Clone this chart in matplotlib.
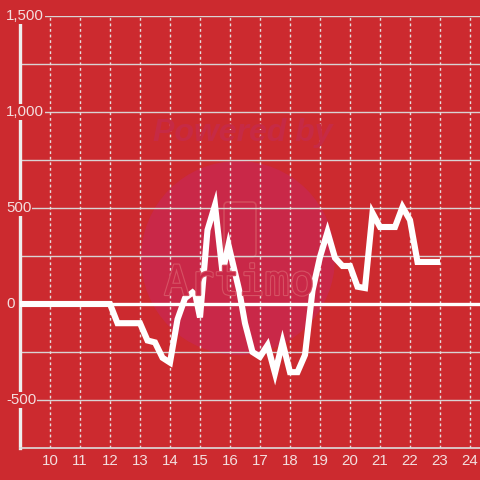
import numpy as np
import matplotlib.pyplot as plt
import matplotlib.patheffects as pe
from matplotlib.patches import Circle, FancyBboxPatch
from matplotlib.transforms import blended_transform_factory

# hours of day vs value
hours = [9.0, 12.0, 12.25, 13.0, 13.25, 13.5, 13.75, 14.0, 14.25, 14.5, 14.75,
         14.85, 15.0, 15.25, 15.5, 15.75, 15.95, 16.3, 16.5, 16.75, 17.0, 17.25,
         17.5, 17.75, 18.0, 18.25, 18.5, 18.75, 19.0, 19.25, 19.5, 19.75, 20.0,
         20.25, 20.5, 20.75, 21.0, 21.5, 21.75, 22.0, 22.25, 23.0]
values = [0, 0, -100, -100, -190, -200, -280, -305, -80, 30, 60,
          45, -70, 385, 515, 165, 307, 75, -100, -250, -275, -215,
          -360, -200, -355, -355, -265, 70, 245, 375, 240, 198, 198,
          90, 83, 474, 401, 401, 505, 437, 219, 219]

xticks = list(range(10, 25))
yticks = [-500, 0, 500, 1000, 1500]
ylabels = ["-500", "0", "500", "1,000", "1,500"]

bg = "#cc2a2f"
txt = "#f3dede"
circ = "#c92848"

plt.rcParams["font.family"] = ["Liberation Sans", "DejaVu Sans"]

fig = plt.figure(figsize=(4.8, 4.8), dpi=100, facecolor=bg)
ax = fig.add_axes([20 / 480, 32 / 480, 460 / 480, 432 / 480])
ax.set_facecolor(bg)
ax.set_xlim(9, 9 + 460 / 30)
ax.set_ylim(-750, 1500)

# watermark
ax.add_patch(Circle((238, 222), 97, transform=None, facecolor=circ,
                    edgecolor="none", zorder=0.5))
ax.add_patch(FancyBboxPatch((224, 480 - 257), 32, 55, transform=None,
                            boxstyle="round,pad=0,rounding_size=4",
                            facecolor="none", edgecolor="#d24a5c", lw=1.2,
                            zorder=0.6))
fig.text(243 / 480, 1 - 133 / 480, "Powered by", ha="center", va="center",
         fontsize=23, fontweight="bold", style="italic", color="#c62a45",
         zorder=0.6)
fig.text(239 / 480, 1 - 283 / 480, "Artimo", ha="center", va="center",
         fontsize=30, color=circ, zorder=0.6, family="DejaVu Sans Mono",
         path_effects=[pe.withStroke(linewidth=1.6, foreground="#d65264")])

# grid
for v in np.arange(-500, 1501, 250):
    if v != 0:
        ax.axhline(v, color="#d9d3d3", lw=1.0, zorder=1)
for h in xticks:
    ax.axvline(h, color="#e6dede", lw=1.0, ls=(0, (2, 2)), zorder=1)
ax.axhline(0, color="white", lw=2.4, zorder=1.5)

ax.plot(hours, values, color="white", lw=4.4, solid_joinstyle="miter",
        solid_capstyle="butt", zorder=3)

for s in ["top", "right"]:
    ax.spines[s].set_visible(False)
ax.spines["left"].set_color("#eeeeee")
ax.spines["left"].set_linewidth(2.4)
ax.spines["bottom"].set_color("#dcdcdc")
ax.spines["bottom"].set_linewidth(1.2)

ax.set_xticks(xticks)
ax.set_xticklabels([str(t) for t in xticks])
ax.tick_params(axis="x", length=0, pad=4, labelsize=10.8, labelcolor=txt)
ax.set_yticks([])

tr = blended_transform_factory(fig.transFigure, ax.transData)
for v, lab in zip(yticks, ylabels):
    ax.text(6 / 480, v, lab, transform=tr, ha="left", va="center",
            fontsize=10.8, color=txt, clip_on=False, zorder=5,
            bbox=dict(facecolor=bg, edgecolor="none", pad=0.8))

fig.savefig("out.png", dpi=100, facecolor=bg)
